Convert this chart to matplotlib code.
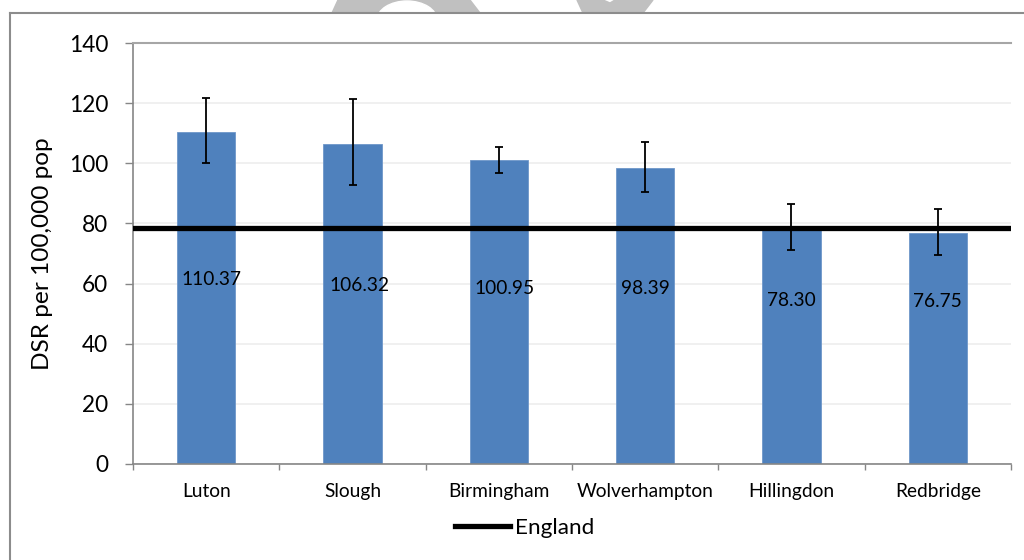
import matplotlib.pyplot as plt
from matplotlib.lines import Line2D
from matplotlib.patches import Polygon, Ellipse
import numpy as np

areas = ["Luton", "Slough", "Birmingham", "Wolverhampton", "Hillingdon", "Redbridge"]
dsr = [110.37, 106.32, 100.95, 98.39, 78.30, 76.75]
ci_low = [100.0, 92.8, 96.7, 90.5, 71.1, 69.5]
ci_high = [121.6, 121.3, 105.4, 107.1, 86.4, 84.9]
england = 78.4
yticks = [0, 20, 40, 60, 80, 100, 120, 140]

# where the value labels sit (hand placed in the original)
label_y = [61.5, 59.2, 58.5, 58.2, 54.5, 53.9]
label_dx = [0.035, 0.048, 0.04, 0.0, 0.0, 0.0]

plt.rcParams['font.family'] = ['Lato', 'DejaVu Sans']

W, H = 1024, 560
fig = plt.figure(figsize=(W / 100, H / 100), dpi=100)


def px(x, y):
    return (x / W, 1 - y / H)


# watermark fragments peeking in above the chart frame
grey = '#c0c0c0'
fig.patches.append(Polygon([px(338, 0), px(470, 0), px(480, 13), px(332, 13)],
                           closed=True, transform=fig.transFigure, color=grey, zorder=0))
fig.patches.append(Ellipse(px(407, 20), 60 / W, 38 / H, transform=fig.transFigure,
                           color='white', zorder=0.5))
fig.patches.append(Polygon([px(577, 0), px(603, 0), px(610, 3), px(615, 0), px(653, 0),
                            px(643, 13), px(583, 13)],
                           closed=True, transform=fig.transFigure, color=grey, zorder=0))

# chart frame
fig.add_artist(Line2D([10 / W, 10 / W], [0, 1 - 13 / H], color='#8c8c8c', lw=1.5, zorder=2))
fig.add_artist(Line2D([10 / W, 1], [1 - 13 / H, 1 - 13 / H], color='#8c8c8c', lw=1.5, zorder=2))

ax = fig.add_axes([133 / W, 96 / H, 878 / W, 421 / H])
x = np.arange(len(areas))
err = [np.array(dsr) - np.array(ci_low), np.array(ci_high) - np.array(dsr)]

ax.bar(x, dsr, width=0.4, color='#4f81bd', edgecolor='#6f97c9', linewidth=0.6, zorder=2)
ax.errorbar(x, dsr, yerr=err, fmt='none', ecolor='black', elinewidth=1.3,
            capsize=3, capthick=1.3, zorder=3)
ax.axhline(england, color='black', lw=3.8, zorder=4, label='England')

for i, v in enumerate(dsr):
    ax.text(x[i] + label_dx[i], label_y[i], f"{v:.2f}", ha='center', va='center',
            fontsize=13.8, color='black', zorder=5)

ax.set_xlim(-0.5, len(areas) - 0.5)
ax.set_ylim(0, 140)
ax.set_yticks(yticks)
ax.tick_params(axis='y', labelsize=16.3, length=5.8, color='#868686', width=1, pad=12)
ax.set_xticks(x)
ax.set_xticklabels(areas)
ax.set_xticks(np.arange(-0.5, len(areas)), minor=True)
ax.tick_params(axis='x', which='major', length=0, labelsize=13.8, pad=14)
ax.tick_params(axis='x', which='minor', length=4.3, color='#868686', width=1)

ax.grid(axis='y', color='#efefef', lw=1.3, zorder=0)
ax.set_axisbelow(True)
for s in ['left', 'bottom']:
    ax.spines[s].set_color('#868686')
    ax.spines[s].set_linewidth(1.2)
ax.spines['right'].set_visible(False)
ax.spines['top'].set_color('#a6a6a6')
ax.spines['top'].set_linewidth(1.5)

ax.set_ylabel('DSR per 100,000 pop', fontsize=17.6)
ax.yaxis.set_label_coords(-0.091, 0.5)

fig.legend(loc='center left', bbox_to_anchor=px(455, 528), frameon=False, fontsize=16.2,
           handlelength=2.45, handletextpad=0.2, borderpad=0, borderaxespad=0)

fig.savefig('out.png', dpi=100)
